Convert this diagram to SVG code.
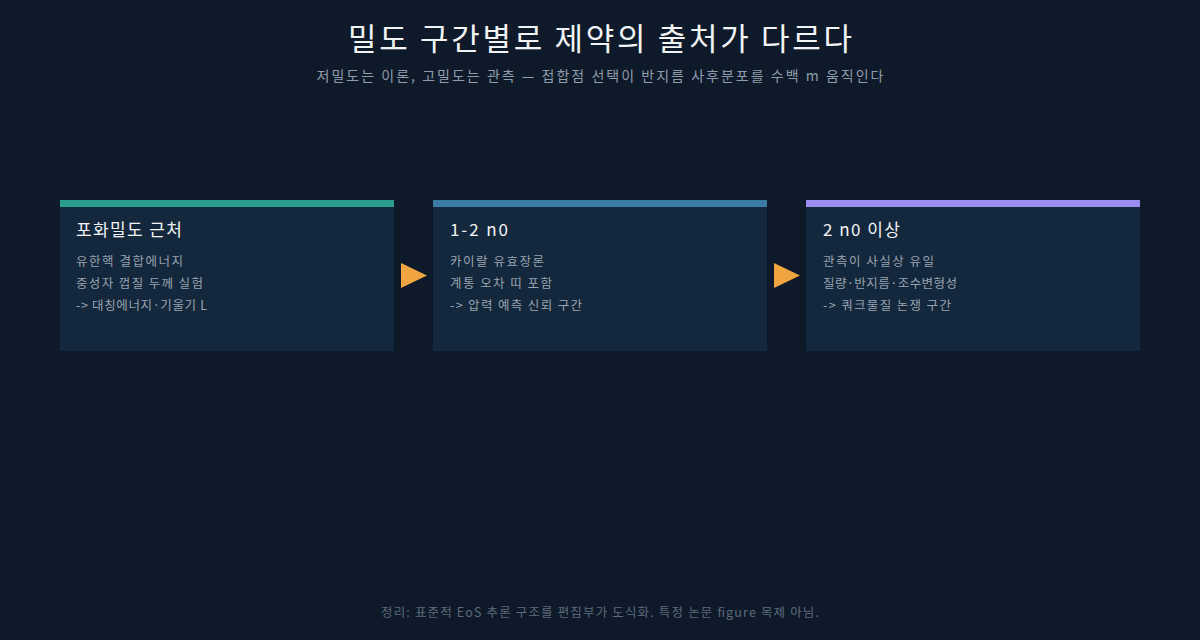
<svg xmlns="http://www.w3.org/2000/svg" width="1200" height="640" viewBox="0 0 1200 640">
<style>
text{font-family:"Noto Sans CJK KR","Noto Sans",sans-serif}
.title{font-size:31px;fill:#f2f4f7;text-anchor:middle}
.sub{font-size:14px;fill:#8f9cab;text-anchor:middle}
.card{fill:#13283d}
.ct{font-size:17px;fill:#f2f4f7}
.cl{font-size:12.5px;fill:#97a3b0}
.foot{font-size:12.5px;fill:#5d6b7b;text-anchor:middle}
.arr{fill:#f0a540}
</style>
<rect width="1200" height="640" fill="#0e1a2a"/>
<text class="title" x="600" y="50" textLength="504" lengthAdjust="spacing">밀도 구간별로 제약의 출처가 다르다</text>
<text class="sub" x="600" y="81" textLength="567" lengthAdjust="spacing">저밀도는 이론, 고밀도는 관측 — 접합점 선택이 반지름 사후분포를 수백 m 움직인다</text>
<g id="node1">
<rect class="card" x="60" y="200" width="334" height="151"/>
<rect x="60" y="200" width="334" height="7" fill="#2a9d8f"/>
<text class="ct" x="76" y="236" textLength="106" lengthAdjust="spacing">포화밀도 근처</text>
<text class="cl" x="76" y="266" textLength="107" lengthAdjust="spacing">유한핵 결합에너지</text>
<text class="cl" x="76" y="288" textLength="127" lengthAdjust="spacing">중성자 껍질 두께 실험</text>
<text class="cl" x="76" y="310" textLength="131" lengthAdjust="spacing">-&gt; 대칭에너지·기울기 L</text>
</g>
<g id="node2">
<rect class="card" x="433" y="200" width="334" height="151"/>
<rect x="433" y="200" width="334" height="7" fill="#3a7ca5"/>
<text class="ct" x="450" y="236" textLength="58" lengthAdjust="spacing">1-2 n0</text>
<text class="cl" x="450" y="266" textLength="94" lengthAdjust="spacing">카이랄 유효장론</text>
<text class="cl" x="450" y="288" textLength="102" lengthAdjust="spacing">계통 오차 띠 포함</text>
<text class="cl" x="450" y="310" textLength="132" lengthAdjust="spacing">-&gt; 압력 예측 신뢰 구간</text>
</g>
<g id="node3">
<rect class="card" x="806" y="200" width="334" height="151"/>
<rect x="806" y="200" width="334" height="7" fill="#9b8cf0"/>
<text class="ct" x="823" y="236" textLength="77" lengthAdjust="spacing">2 n0 이상</text>
<text class="cl" x="823" y="266" textLength="111" lengthAdjust="spacing">관측이 사실상 유일</text>
<text class="cl" x="823" y="288" textLength="134" lengthAdjust="spacing">질량·반지름·조수변형성</text>
<text class="cl" x="823" y="310" textLength="128" lengthAdjust="spacing">-&gt; 쿼크물질 논쟁 구간</text>
</g>
<g id="connectors">
<polygon class="arr" points="401,263 427,275.5 401,288"/>
<polygon class="arr" points="774,263 800,275.5 774,288"/>
</g>
<text class="foot" x="600" y="617" textLength="438" lengthAdjust="spacing">정리: 표준적 EoS 추론 구조를 편집부가 도식화. 특정 논문 figure 목제 아님.</text>
</svg>
